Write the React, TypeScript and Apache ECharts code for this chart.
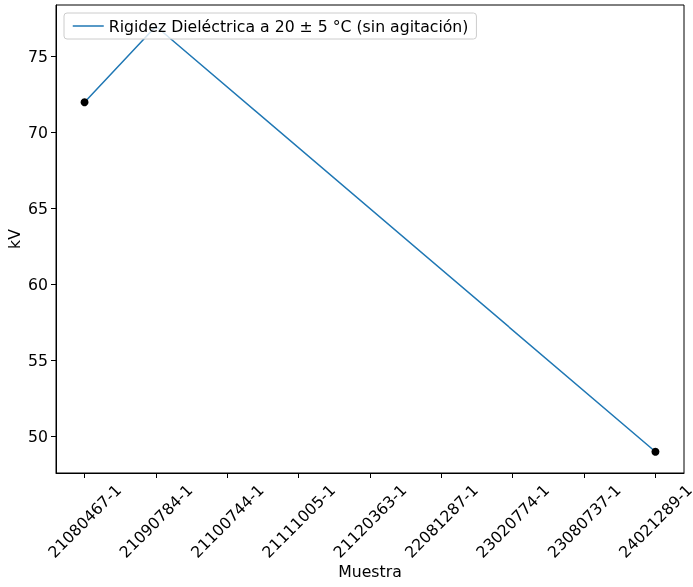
import React, { useEffect, useRef } from "react";
import * as echarts from "echarts";

const categories = [
  "21080467-1",
  "21090784-1",
  "21100744-1",
  "21111005-1",
  "21120363-1",
  "22081287-1",
  "23020774-1",
  "23080737-1",
  "24021289-1",
];
const seriesName = "Rigidez Dieléctrica a 20 ± 5 °C (sin agitación)";
const lineIdx = [0, 1, 8];
const lineValues = [72, 77, 49];
const dotIdx = [0, 8];
const dotValues = [72, 49];
const yTicks = [50, 55, 60, 65, 70, 75];

export default function App() {
  const ref = useRef<HTMLDivElement>(null);
  useEffect(() => {
    if (!ref.current) return;
    const chart = echarts.init(ref.current, undefined, { renderer: "svg" });
    const font = "DejaVu Sans";
    const fs = 15.7;
    const xTicks = categories.map((_, i) => i);
    chart.setOption({
      animation: false,
      textStyle: { fontFamily: font },
      grid: {
        left: 56,
        right: 9,
        top: 5,
        bottom: 114,
        outerBoundsMode: "none",
        containLabel: false,
        show: true,
        borderColor: "#000",
        borderWidth: 1,
        backgroundColor: "transparent",
      },
      legend: {
        left: 64,
        top: 13,
        orient: "vertical",
        itemWidth: 31,
        itemHeight: 14,
        itemGap: 10,
        padding: [5, 8, 5, 8],
        backgroundColor: "rgba(255,255,255,0.8)",
        borderColor: "#cccccc",
        borderWidth: 1,
        borderRadius: 3,
        itemStyle: { opacity: 0 },
        lineStyle: { color: "#1f77b4", width: 1.5 },
        textStyle: { fontFamily: font, fontSize: fs, color: "#000" },
        data: [{ name: seriesName }],
      },
      xAxis: {
        type: "value",
        min: -0.4,
        max: 8.4,
        name: "Muestra",
        nameLocation: "middle",
        nameGap: 90,
        nameMoveOverlap: false,
        nameTextStyle: { fontFamily: font, fontSize: fs, color: "#000" },
        splitLine: { show: false },
        axisLine: { show: true, onZero: false, lineStyle: { color: "#000", width: 1 } },
        axisTick: {
          show: true,
          length: 5,
          lineStyle: { color: "#000" },
          customValues: xTicks,
        },
        axisLabel: {
          customValues: xTicks,
          formatter: (v: number) => categories[Math.round(v)] ?? "",
          rotate: 45,
          align: "center",
          verticalAlign: "middle",
          margin: 48,
          fontFamily: font,
          fontSize: fs,
          color: "#000",
        },
      },
      yAxis: {
        type: "value",
        min: 47.6,
        max: 78.4,
        name: "kV",
        nameLocation: "middle",
        nameGap: 34,
        nameMoveOverlap: false,
        nameRotate: 90,
        nameTextStyle: { fontFamily: font, fontSize: fs, color: "#000" },
        splitLine: { show: false },
        axisLine: { show: true, onZero: false, lineStyle: { color: "#000", width: 1 } },
        axisTick: {
          show: true,
          length: 5,
          lineStyle: { color: "#000" },
          customValues: yTicks,
        },
        axisLabel: {
          customValues: yTicks,
          margin: 8,
          fontFamily: font,
          fontSize: fs,
          color: "#000",
        },
      },
      series: [
        {
          name: seriesName,
          type: "line",
          data: lineIdx.map((x, i) => [x, lineValues[i]]),
          symbol: "none",
          lineStyle: { color: "#1f77b4", width: 1.5 },
          itemStyle: { color: "#1f77b4" },
          z: 2,
        },
        {
          name: "puntos",
          type: "scatter",
          data: dotIdx.map((x, i) => [x, dotValues[i]]),
          symbol: "circle",
          symbolSize: 8,
          itemStyle: { color: "#000", opacity: 1 },
          z: 3,
        },
      ],
    });
    return () => chart.dispose();
  }, []);
  return (
    <div
      ref={ref}
      style={{ position: "fixed", left: 0, top: 0, width: 693, height: 587 }}
    />
  );
}
